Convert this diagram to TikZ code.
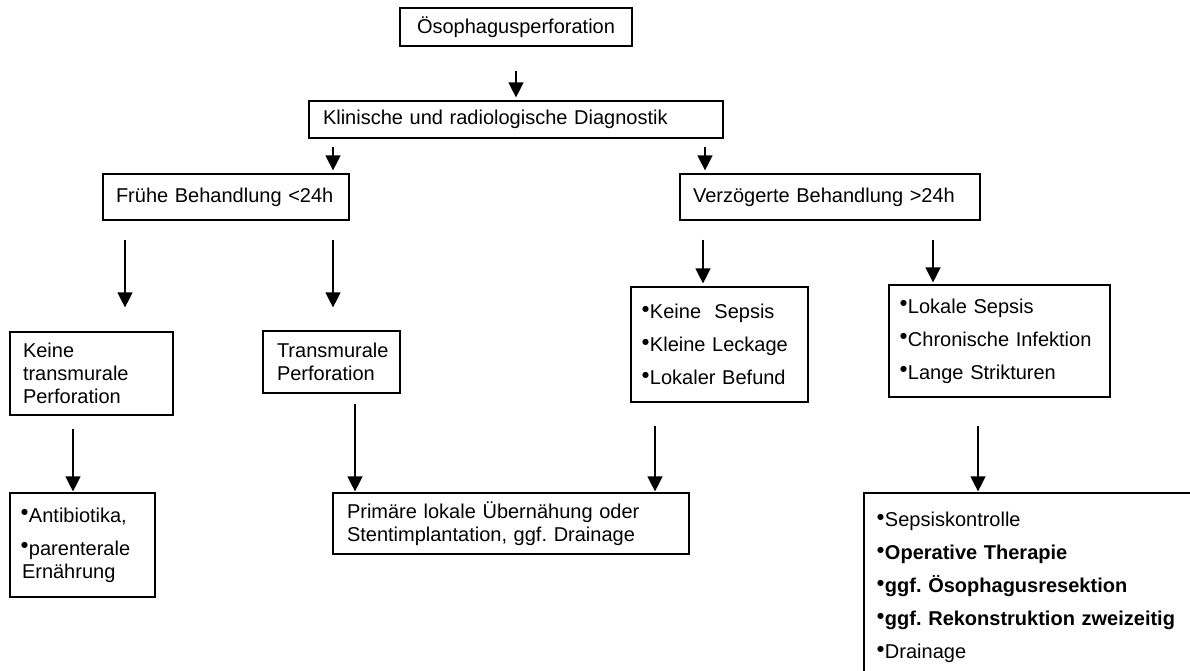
\documentclass[tikz,border=0pt]{standalone}
\usepackage{fontspec}
\setmainfont{Liberation Sans}
\newfontfamily\dvfont{DejaVu Sans}
\usetikzlibrary{arrows.meta,calc}
\newcommand\bul{{\dvfont\fontsize{8}{8}\selectfont\raisebox{7.5pt}{●}}\hspace{1pt}}
\newcommand\gap{\\[10pt]}
\frenchspacing
\begin{document}
\begin{tikzpicture}[x=1pt,y=-1pt,
  box/.style={draw, line width=1.2pt, align=left, inner ysep=0pt,
    font=\fontsize{20}{23}\selectfont\frenchspacing},
  arr/.style={line width=1.3pt, -{Triangle[width=15pt,length=15pt]}}]
\useasboundingbox (0,0) rectangle (1190,670);
\node[box, align=center, minimum width=232, minimum height=38] (top) at (516,27) {Ösophagusperforation};
\node[box, text width=386, inner xsep=14, minimum height=37] (diag) at (516,119.5) {Klinische und radiologische Diagnostik};
\node[box, text width=220, inner xsep=13, minimum height=46] (fruh) at (226,197) {Frühe Behandlung <24h};
\node[box, text width=274, inner xsep=13, minimum height=46] (verz) at (830,197) {Verzögerte Behandlung >24h};
\node[box, text width=137, inner xsep=13, minimum height=83] (keinetr) at (91.5,373.5) {Keine\\transmurale\\Perforation};
\node[box, text width=109, inner xsep=14, minimum height=62] (trans) at (331.5,362) {Transmurale\\Perforation};
\node[box, text width=155, inner xsep=11, minimum height=115] (keinesep) at (719.5,344.5) {\bul Keine\ \ Sepsis\gap\bul Kleine Leckage\gap\bul Lokaler Befund};
\node[box, text width=199, inner xsep=11, minimum height=112] (lokal) at (999.5,341) {\bul Lokale Sepsis\gap\bul Chronische Infektion\gap\bul Lange Strikturen};
\node[box, text width=123, inner xsep=11, minimum height=104] (antib) at (82.5,545) {\bul Antibiotika,\gap\bul parenterale\\\hspace*{1pt}Ernährung};
\node[box, text width=328, inner xsep=14, minimum height=61] (primar) at (511,523.5) {Primäre lokale Übernähung oder\\Stentimplantation, ggf. Drainage};
\node[box, text width=310, inner xsep=13, minimum height=189] (big) at (1032,587.5) {\bul Sepsiskontrolle\gap\bul\textbf{Operative Therapie}\gap\bul\textbf{ggf. Ösophagusresektion}\gap\bul\textbf{ggf. Rekonstruktion zweizeitig}\gap\bul Drainage};
% connectors
\draw[arr, shorten <=24pt, shorten >=3pt] (top.south) -- (diag.north);
\draw[arr, shorten <=8pt, shorten >=3pt] ([xshift=-183pt]diag.south) coordinate (s1) -- (s1 |- fruh.north);
\draw[arr, shorten <=8pt, shorten >=3pt] ([xshift=189pt]diag.south) coordinate (s2) -- (s2 |- verz.north);
\draw[arr, shorten <=19pt, shorten >=24pt] ([xshift=-101pt]fruh.south) coordinate (s3) -- (s3 |- keinetr.north);
\draw[arr, shorten <=19pt, shorten >=23pt] ([xshift=107pt]fruh.south) coordinate (s4) -- (s4 |- trans.north);
\draw[arr, shorten <=19pt, shorten >=3pt] ([xshift=-127pt]verz.south) coordinate (s5) -- (s5 |- keinesep.north);
\draw[arr, shorten <=19pt, shorten >=2pt] ([xshift=103pt]verz.south) coordinate (s6) -- (s6 |- lokal.north);
\draw[arr, shorten <=13pt, shorten >=1pt] ([xshift=-18.5pt]keinetr.south) coordinate (s7) -- (s7 |- antib.north);
\draw[arr, shorten <=10pt, shorten >=1pt] ([xshift=23.5pt]trans.south) coordinate (s8) -- (s8 |- primar.north);
\draw[arr, shorten <=23pt, shorten >=1pt] ([xshift=-64.5pt]keinesep.south) coordinate (s9) -- (s9 |- primar.north);
\draw[arr, shorten <=28pt, shorten >=1pt] ([xshift=-21.5pt]lokal.south) coordinate (s10) -- (s10 |- big.north);
\end{tikzpicture}
\end{document}
